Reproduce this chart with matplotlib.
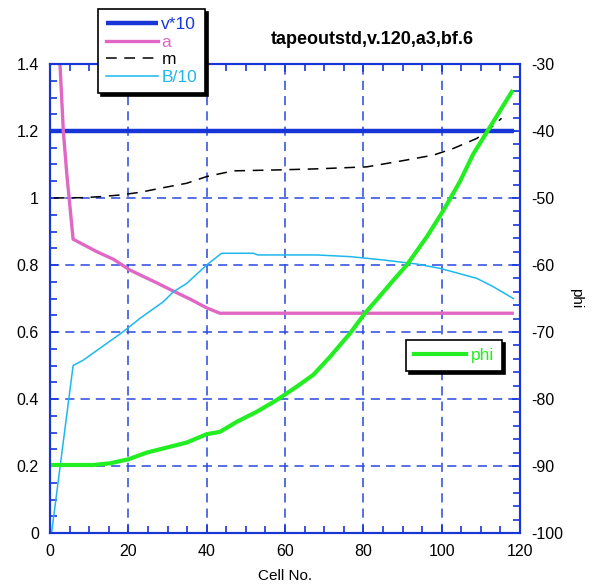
import matplotlib
matplotlib.use("Agg")
import matplotlib.pyplot as plt
from matplotlib.ticker import MultipleLocator

plt.rcParams['font.family'] = ['Liberation Sans', 'DejaVu Sans']
plt.rcParams['axes.unicode_minus'] = False

# ---- data ----
v10_x = [0, 118.4]
v10_y = [1.2, 1.2]

a_x = [2.0, 2.55, 3.4, 4.3, 5.9, 11.9, 16.2, 20.4, 27.2, 31.5, 35.8, 40.0, 43.4, 118.0]
a_y = [1.55, 1.40, 1.20, 1.07, 0.877, 0.84, 0.817, 0.785, 0.747, 0.722, 0.698, 0.672, 0.656, 0.656]

m_x = [1, 8.5, 12.8, 17.9, 23.0, 28.1, 34.9, 40.0, 46.8, 58.7, 68.1, 80.9, 89.4, 97.9, 103.0, 109.0, 112.4, 115.3]
m_y = [1.0, 1.001, 1.004, 1.009, 1.017, 1.029, 1.044, 1.064, 1.081, 1.084, 1.087, 1.093, 1.11, 1.128, 1.148, 1.178, 1.208, 1.238]

B_x = [0.4, 5.9, 8.5, 18.7, 23.0, 28.9, 31.5, 34.9, 40.0, 43.8, 51.9, 53.1, 68.1, 76.6, 85.1, 93.6, 99.6, 109.0, 113.2, 118.3]
B_y = [0.0, 0.50, 0.516, 0.601, 0.641, 0.69, 0.72, 0.745, 0.80, 0.835, 0.835, 0.83, 0.83, 0.825, 0.815, 0.803, 0.79, 0.76, 0.735, 0.70]

phi_x = [0, 11, 15.3, 20, 24.7, 29.8, 34.9, 40, 43.4, 47.7, 52.8, 57.9, 63, 67.2, 71.5, 76.6,
         80.4, 83.4, 87.7, 91.1, 96.2, 100.4, 104.7, 108, 112.4, 117.9]
phi_y = [-89.85, -89.85, -89.6, -89, -88, -87.25, -86.5, -85.25, -84.9, -83.4, -81.9, -80.15,
         -78.15, -76.4, -73.7, -70.2, -67.2, -65.2, -62.25, -60, -55.8, -51.9, -47.5, -43.5,
         -39.35, -34.15]

title = "tapeoutstd,v.120,a3,bf.6"

# ---- styles ----
BLUE = '#1836d8'
GRID = '#2a48e0'
PINK = '#e068c4'
CYAN = '#1cb8ec'
GREEN = '#22ee22'

fig = plt.figure(figsize=(5.94, 5.84), dpi=100)
ax = fig.add_axes([50/594, 1-533/584, 470/594, 469/584])
ax2 = ax.twinx()

l1, = ax.plot(v10_x, v10_y, color=BLUE, lw=3.2, label='v*10', solid_capstyle='butt')
l2, = ax.plot(a_x, a_y, color=PINK, lw=2.4, label='a')
l3, = ax.plot(m_x, m_y, color='black', lw=1.1, ls=(0, (7, 5)), label='m')
l4, = ax.plot(B_x, B_y, color=CYAN, lw=1.1, label='B/10')
l5, = ax2.plot(phi_x, phi_y, color=GREEN, lw=3.0, label='phi')

ax.set_xlim(0, 120)
ax.set_ylim(0, 1.4)
ax2.set_ylim(-100, -30)

ax.xaxis.set_major_locator(MultipleLocator(20))
ax.xaxis.set_minor_locator(MultipleLocator(5))
ax.yaxis.set_major_locator(MultipleLocator(0.2))
ax.yaxis.set_minor_locator(MultipleLocator(0.05))
ax2.yaxis.set_major_locator(MultipleLocator(10))
ax2.yaxis.set_minor_locator(MultipleLocator(2))

ax.set_yticks([0, 0.2, 0.4, 0.6, 0.8, 1.0, 1.2, 1.4])
ax.set_yticklabels(['0', '0.2', '0.4', '0.6', '0.8', '1', '1.2', '1.4'])

ax.grid(True, which='major', color=GRID, ls=(0, (6, 4)), lw=1.1)

for a_ in (ax, ax2):
    for s in a_.spines.values():
        s.set_color(BLUE)
        s.set_linewidth(1.5)
ax.tick_params(which='both', direction='in', color=BLUE, top=True, right=False,
               labelsize=11.5, pad=8)
ax.tick_params(which='major', length=6, width=1.2)
ax.tick_params(which='minor', length=5, width=1.2)
ax2.tick_params(which='both', direction='in', color=BLUE, labelsize=11.5, pad=8)
ax2.tick_params(which='major', length=6, width=1.2)
ax2.tick_params(which='minor', length=5, width=1.2)

ax.set_xlabel('Cell No.', fontsize=11, labelpad=7)
ax2.set_ylabel('phi', fontsize=11, rotation=270, labelpad=14)

fig.text(372/594, 1-40/584, title, ha='center', va='center', fontsize=13, fontweight='bold')

leg1 = fig.legend(handles=[l1, l2, l3, l4], loc='upper left',
                  bbox_to_anchor=(98/594, 1-9/584), bbox_transform=fig.transFigure,
                  fancybox=False, shadow={'color': 'black', 'alpha': 1}, framealpha=1,
                  edgecolor='black', fontsize=12.5, handlelength=3.0, handletextpad=0.2,
                  labelspacing=0.15, borderpad=0.45, borderaxespad=0, labelcolor='linecolor')
leg1.get_frame().set_linewidth(1.2)
leg1.set_zorder(10)

leg2 = fig.legend(handles=[l5], loc='upper left',
                  bbox_to_anchor=(406/594, 1-340/584), bbox_transform=fig.transFigure,
                  fancybox=False, shadow={'color': 'black', 'alpha': 1}, framealpha=1,
                  edgecolor='black', fontsize=12.5, handlelength=3.0, handletextpad=0.3,
                  borderpad=0.45, borderaxespad=0, labelcolor='linecolor')
leg2.get_frame().set_linewidth(1.2)

fig.savefig('out.png', dpi=100)
